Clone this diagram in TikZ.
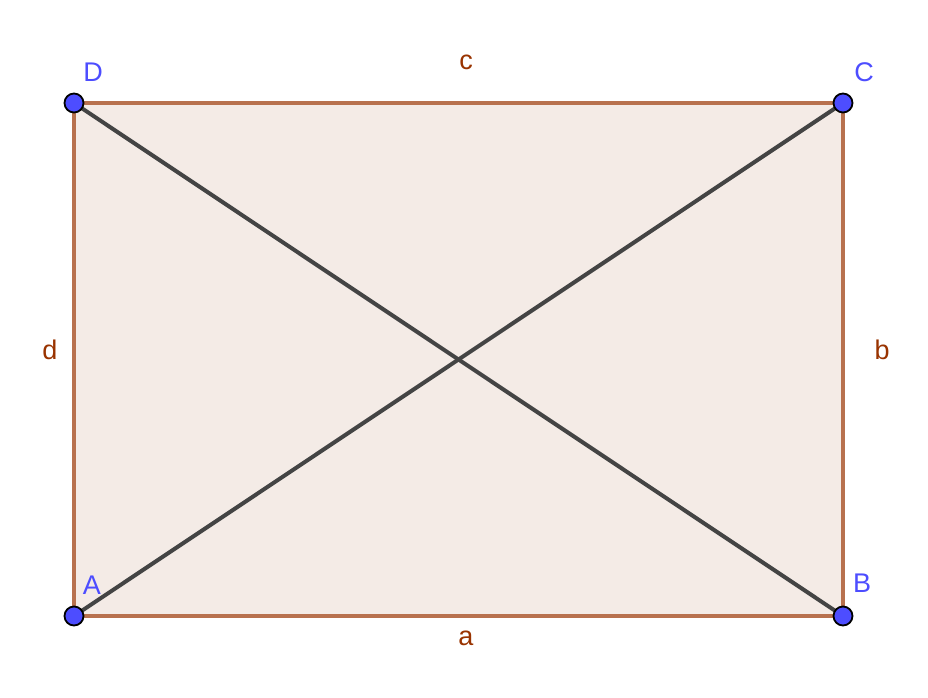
\documentclass[tikz,border=0pt]{standalone}
\usepackage{fontspec}
\setmainfont{Liberation Sans}
\definecolor{ptblue}{HTML}{4D4DFF}
\definecolor{edgec}{HTML}{B8714E}
\definecolor{fillc}{HTML}{F4EBE6}
\definecolor{labc}{HTML}{993300}
\definecolor{diagc}{HTML}{444444}
\begin{document}
\begin{tikzpicture}[x=1pt,y=-1pt,
  pt/.style={circle,fill=ptblue,draw=black,line width=1.8pt,minimum size=19pt,inner sep=0pt},
  ptlab/.style={text=ptblue,font=\fontsize{27}{27}\selectfont,inner sep=0pt},
  sidelab/.style={text=labc,font=\fontsize{27}{27}\selectfont,inner sep=0pt},
  edge/.style={draw=edgec,line width=4pt},
  diag/.style={draw=diagc,line width=4pt}]
\useasboundingbox (0,0) rectangle (928,698);
\coordinate (a0) at (74,616);
\coordinate (b0) at (843,616);
\coordinate (c0) at (843,103);
\coordinate (d0) at (74,103);
\fill[fillc] (a0) -- (b0) -- (c0) -- (d0) -- cycle;
\draw[edge] (a0) -- (b0) -- (c0) -- (d0) -- cycle;
\draw[diag] (a0) -- (c0);
\draw[diag] (d0) -- (b0);
\node[pt] (A) at (a0) {};
\node[pt] (B) at (b0) {};
\node[pt] (C) at (c0) {};
\node[pt] (D) at (d0) {};
\node[ptlab] (lD) at (93,72) {D};
\node[ptlab] (lC) at (864,72) {C};
\node[ptlab] (lA) at (92,585) {A};
\node[ptlab] (lB) at (862,583) {B};
\node[sidelab] (lc) at (466,62) {c};
\node[sidelab] (la) at (466,638) {a};
\node[sidelab] (ld) at (50,350) {d};
\node[sidelab] (lb) at (882,350) {b};
\end{tikzpicture}
\end{document}
